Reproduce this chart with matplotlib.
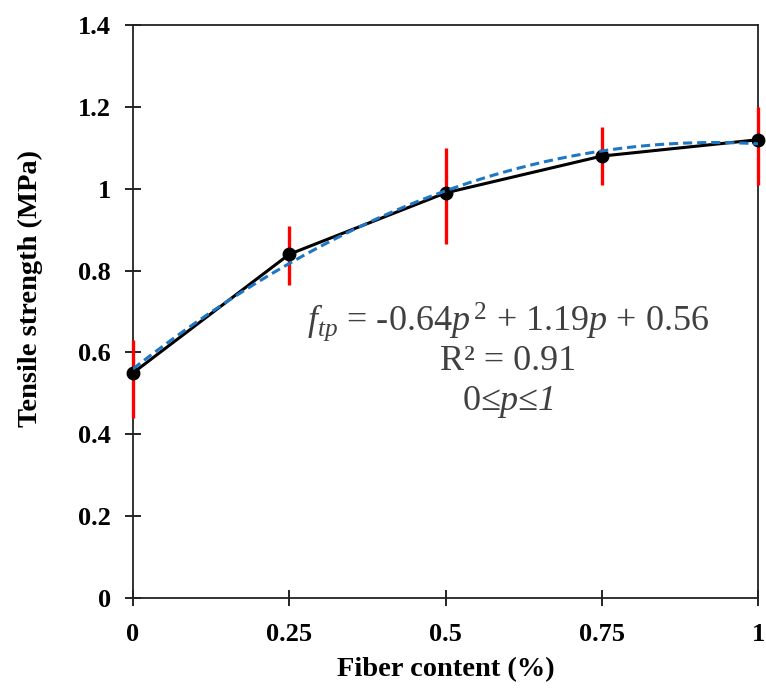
import matplotlib.pyplot as plt
import numpy as np

# fiber content (%) and tensile strength (MPa)
fiber = [0, 0.25, 0.5, 0.75, 1]
strength = [0.55, 0.84, 0.99, 1.08, 1.12]
err_low = [0.11, 0.075, 0.125, 0.07, 0.11]
err_high = [0.08, 0.07, 0.11, 0.07, 0.08]

# quadratic trend coefficients as printed on the chart
coef = [-0.64, 1.19, 0.56]

xticks = [0, 0.25, 0.5, 0.75, 1]
xticklabels = ['0', '0.25', '0.5', '0.75', '1']
yticks = [0, 0.2, 0.4, 0.6, 0.8, 1.0, 1.2, 1.4]
yticklabels = ['0', '0.2', '0.4', '0.6', '0.8', '1', '1.2', '1.4']

plt.rcParams['font.family'] = ['Liberation Serif', 'DejaVu Serif']
plt.rcParams['mathtext.fontset'] = 'custom'
plt.rcParams['mathtext.rm'] = 'Liberation Serif'
plt.rcParams['mathtext.it'] = 'Liberation Serif:italic'

fig = plt.figure(figsize=(7.66, 6.91), dpi=100)
ax = fig.add_axes([0.1736, 0.1346, 0.816, 0.829])

eb = ax.errorbar(fiber, strength, yerr=[err_low, err_high], fmt='none',
                 ecolor='#ff0000', elinewidth=2.4, capsize=0, zorder=3)
for c in eb.lines[2]:
    c.set_clip_on(False)
ax.plot(fiber, strength, color='black', lw=2.2, marker='o', ms=9, zorder=4,
        clip_on=False)

p = np.linspace(0, 1, 200)
ax.plot(p, np.polyval(coef, p), color='#1f77c4', lw=2.2, ls=(0, (3, 1.6)), zorder=5)

tc = '#404040'
ax.text(0.6, 0.675, r'$f_{tp}$ = -0.64$p^{\,2}$ + 1.19$p$ + 0.56', fontsize=26,
        ha='center', va='center', color=tc)
ax.text(0.6, 0.577, 'R² = 0.91', fontsize=26, ha='center', va='center', color=tc)
ax.text(0.6, 0.48, r'$0$≤$p$≤1', fontsize=26, ha='center', va='center',
        style='italic', color=tc)

ax.set_xlim(0, 1)
ax.set_ylim(0, 1.4)
ax.set_xticks(xticks)
ax.set_xticklabels(xticklabels)
ax.set_yticks(yticks)
ax.set_yticklabels(yticklabels)
ax.tick_params(direction='inout', length=12, width=1.2, labelsize=19, pad=10)
ax.tick_params(axis='x', pad=12)
for lab in ax.get_xticklabels() + ax.get_yticklabels():
    lab.set_fontweight('bold')
for s in ax.spines.values():
    s.set_linewidth(1.3)
    s.set_color('#222222')

ax.set_xlabel('Fiber content (%)', fontsize=20.5, fontweight='bold', labelpad=8)
ax.set_ylabel('Tensile strength (MPa)', fontsize=20.5, fontweight='bold')
ax.yaxis.set_label_coords(-0.144, 0.54)

fig.savefig('out.png', dpi=100)
